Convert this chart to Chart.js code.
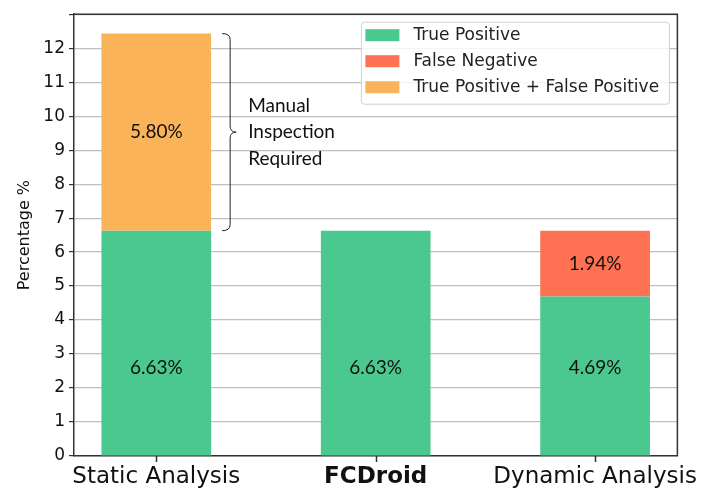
<!DOCTYPE html>
<html>
<head>
<meta charset="utf-8">
<script src="https://cdn.jsdelivr.net/npm/chart.js@4"></script>
<style>
  html, body { margin: 0; padding: 0; background: #fff; }
  #wrap { width: 701px; height: 493px; }
</style>
</head>
<body>
<div id="wrap"><canvas id="myChart" width="701" height="493"></canvas></div>
<script>
// categories along the x-axis
var categories = ['Static Analysis', 'FCDroid', 'Dynamic Analysis'];
// stacked series (percent)
var truePositive = [6.63, 6.63, 4.69];
var falseNegative = [null, null, 1.94];
var tpPlusFp = [5.80, null, null];
// y-axis ticks
var yTicks = [0, 1, 2, 3, 4, 5, 6, 7, 8, 9, 10, 11, 12];
var yMax = 13;
var noteLines = ['Manual', 'Inspection', 'Required'];

function points(arr) {
    return arr.map(function (v, i) { return { x: i, y: v }; });
}

var sansFont = "'DejaVu Sans', sans-serif";
var labelFont = "Lato, 'Open Sans', sans-serif";

var overlay = {
    id: 'overlay',
    afterDraw: function (chart) {
        var c = chart.ctx;
        var area = chart.chartArea;
        var ys = chart.scales.y;
        var xs = chart.scales.x;
        c.save();

        // frame (top + right)
        c.strokeStyle = '#333';
        c.lineWidth = 1.5;
        c.beginPath();
        c.moveTo(area.left, area.top);
        c.lineTo(area.right, area.top);
        c.lineTo(area.right, area.bottom);
        // x tick marks under each category
        categories.forEach(function (name, i) {
            var px = Math.round(xs.getPixelForValue(i)) + 0.5;
            c.moveTo(px, area.bottom);
            c.lineTo(px, area.bottom + 6);
        });
        c.stroke();

        // value labels inside the bars
        c.fillStyle = '#111';
        c.font = '19px ' + labelFont;
        c.textAlign = 'center';
        c.textBaseline = 'middle';
        chart.data.datasets.forEach(function (ds, di) {
            var meta = chart.getDatasetMeta(di);
            ds.data.forEach(function (p, i) {
                if (p.y == null) return;
                var base = 0;
                for (var k = 0; k < di; k++) {
                    var q = chart.data.datasets[k].data[i];
                    if (q.y != null) base += q.y;
                }
                var yv = base === 0 ? 2.6 : base + p.y / 2;
                c.fillText(p.y.toFixed(2) + '%', meta.data[i].x, ys.getPixelForValue(yv));
            });
        });

        // curly bracket next to the static analysis bar
        var bar = chart.getDatasetMeta(2).data[0];
        var top = ys.getPixelForValue(truePositive[0] + tpPlusFp[0]);
        var bot = ys.getPixelForValue(truePositive[0]);
        var mid = (top + bot) / 2;
        var bx = bar.x + bar.width / 2 + 19;
        c.strokeStyle = '#222';
        c.lineWidth = 1;
        c.beginPath();
        c.moveTo(bx - 8, top);
        c.quadraticCurveTo(bx, top, bx, top + 6);
        c.lineTo(bx, mid - 6);
        c.quadraticCurveTo(bx, mid, bx + 6, mid);
        c.moveTo(bx + 6, mid);
        c.quadraticCurveTo(bx, mid, bx, mid + 6);
        c.lineTo(bx, bot - 6);
        c.quadraticCurveTo(bx, bot, bx - 8, bot);
        c.stroke();

        c.fillStyle = '#111';
        c.font = '19px ' + labelFont;
        c.textAlign = 'left';
        noteLines.forEach(function (t, i) {
            c.fillText(t, bx + 18, mid + (i - 1) * 26.5);
        });

        // legend in the top-right corner of the plot
        var lx = area.right - 316, ly = area.top + 8, lw = 308, lh = 82;
        c.fillStyle = 'rgba(255,255,255,0.85)';
        c.strokeStyle = '#d0d0d0';
        c.lineWidth = 1;
        c.beginPath();
        c.roundRect(lx, ly, lw, lh, 3);
        c.fill();
        c.stroke();
        c.font = '17px ' + sansFont;
        c.textAlign = 'left';
        var order = [0, 1, 2];
        order.forEach(function (di, i) {
            var ds = chart.data.datasets[di];
            var cy = ly + 13 + i * 26;
            c.fillStyle = ds.backgroundColor;
            c.fillRect(lx + 4, cy - 6, 34, 12);
            c.fillStyle = '#222';
            c.fillText(ds.label, lx + 52, cy);
        });

        c.restore();
    }
};

var ctx = document.getElementById('myChart');

var myChart = new Chart(ctx, {
    type: 'bar',
    data: {
        datasets: [
            {
                label: 'True Positive',
                data: points(truePositive),
                backgroundColor: '#4bc88f'
            },
            {
                label: 'False Negative',
                data: points(falseNegative),
                backgroundColor: '#fe7152'
            },
            {
                label: 'True Positive + False Positive',
                data: points(tpPlusFp),
                backgroundColor: '#fbb35a'
            }
        ]
    },
    options: {
        responsive: false,
        animation: false,
        barPercentage: 0.5,
        categoryPercentage: 1,
        layout: { padding: { top: 5, right: 23, left: 0, bottom: 0 } },
        plugins: {
            legend: { display: false },
            tooltip: { enabled: false }
        },
        scales: {
            x: {
                type: 'linear',
                stacked: true,
                offset: false,
                min: -0.375,
                max: 2.375,
                afterBuildTicks: function (scale) {
                    scale.ticks = categories.map(function (c, i) { return { value: i }; });
                },
                afterFit: function (scale) { scale.height = 37; },
                ticks: {
                    autoSkip: false,
                    maxRotation: 0,
                    color: '#111',
                    padding: 1,
                    callback: function (v) { return categories[v]; },
                    font: function (c) {
                        return {
                            family: sansFont,
                            size: 23,
                            weight: c.tick && c.tick.value === 1 ? 'bold' : 'normal'
                        };
                    }
                },
                grid: {
                    offset: false,
                    display: true,
                    drawOnChartArea: false,
                    drawTicks: true,
                    tickLength: 6,
                    tickColor: 'rgba(0,0,0,0)'
                },
                border: { display: true, color: '#333', width: 1.5 }
            },
            y: {
                stacked: true,
                min: 0,
                max: yMax,
                z: 1,
                afterBuildTicks: function (scale) {
                    scale.ticks = yTicks.concat([yMax]).map(function (v) { return { value: v }; });
                },
                afterFit: function (scale) { scale.width = 74; },
                ticks: {
                    color: '#111',
                    padding: 4,
                    font: { family: sansFont, size: 17 },
                    callback: function (v) { return v === yMax ? '' : v; }
                },
                grid: {
                    color: 'rgba(150,150,150,0.6)',
                    lineWidth: 1.2,
                    tickLength: 5,
                    tickColor: '#333'
                },
                border: { display: true, color: '#333', width: 1.5 },
                title: {
                    display: true,
                    text: 'Percentage %',
                    color: '#111',
                    padding: { top: 15, bottom: 0 },
                    font: { family: sansFont, size: 16 }
                }
            }
        }
    },
    plugins: [overlay]
});
</script>
</body>
</html>
